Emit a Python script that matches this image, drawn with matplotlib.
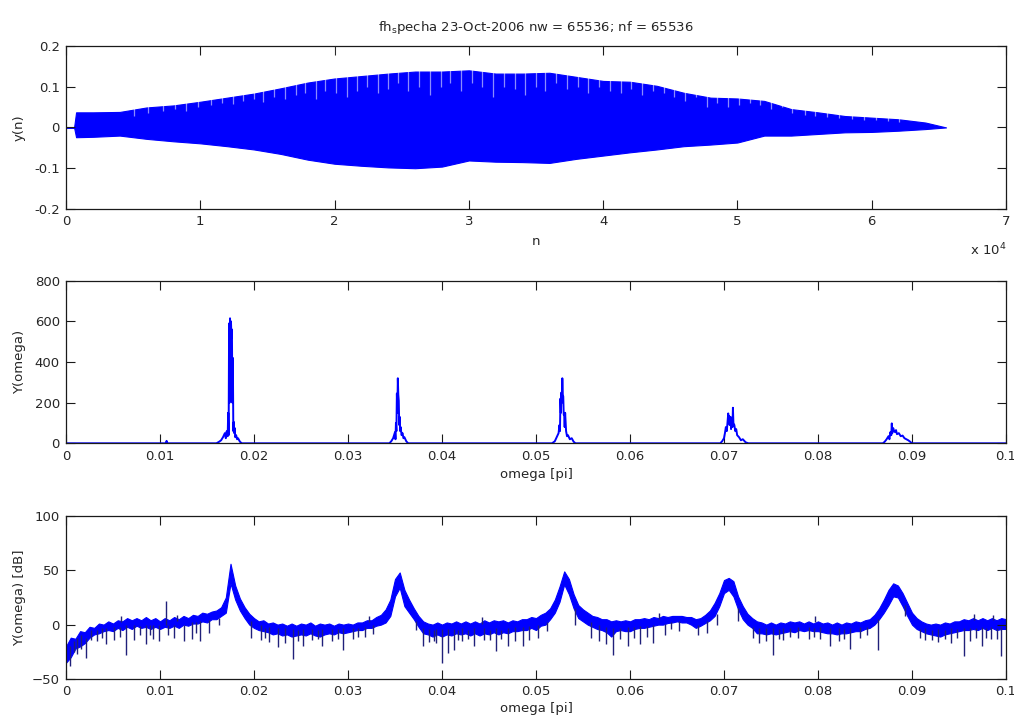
import numpy as np
import matplotlib
matplotlib.use('Agg')
from matplotlib import pyplot as plt

# --- top panel: envelope of y(n) ---
n_env = [0, 600, 750, 2000, 4000, 6000, 8000, 10000, 12000, 14000, 16000, 18000,
         20000, 22000, 24000, 26000, 28000, 30000, 32000, 34000, 36000, 38000,
         40000, 42000, 44000, 46000, 48000, 50000, 52000, 54000, 56000, 58000,
         60000, 62000, 64000, 65536]
y_upper = [0, 0, 0.037, 0.037, 0.038, 0.049, 0.054, 0.063, 0.073, 0.083, 0.096, 0.110,
           0.120, 0.126, 0.132, 0.137, 0.137, 0.140, 0.132, 0.132, 0.134, 0.124,
           0.114, 0.112, 0.102, 0.085, 0.073, 0.071, 0.065, 0.045, 0.037, 0.028,
           0.024, 0.020, 0.012, 0.0]
y_lower = [0, 0, -0.024, -0.023, -0.020, -0.028, -0.034, -0.039, -0.046, -0.054, -0.065, -0.079,
           -0.089, -0.094, -0.098, -0.100, -0.096, -0.081, -0.084, -0.085, -0.087, -0.077,
           -0.069, -0.061, -0.054, -0.046, -0.042, -0.037, -0.020, -0.020, -0.016, -0.012,
           -0.011, -0.008, -0.004, 0.0]

# light aliasing stripes inside the upper half: position and lowest value
stripe_n = [5100, 6100, 7200, 8100, 8900, 9800, 10800, 11600, 12400, 13200, 14000, 14700,
            15500, 16300, 17100, 17800, 18600, 19300, 20100, 20900, 21700, 22400, 23200,
            24000, 24700, 25500, 26300, 27100, 27900, 28600, 29400, 30200, 31000, 31800,
            32600, 33400, 34200, 35000, 35700, 36500, 37300, 38100, 38900, 39700, 40500,
            41300, 42100, 42900, 43700, 44500, 45300, 46100, 46900, 47700, 48500, 49300,
            50100, 50900, 51700, 52500, 53300, 54100, 55000, 55800, 56700, 57600, 58500,
            59400, 60300, 61200, 62000]
stripe_bot = [0.028, 0.035, 0.040, 0.045, 0.040, 0.050, 0.055, 0.060, 0.058, 0.065, 0.070,
              0.062, 0.075, 0.070, 0.080, 0.085, 0.070, 0.090, 0.085, 0.075, 0.090, 0.100,
              0.085, 0.095, 0.110, 0.090, 0.100, 0.080, 0.100, 0.110, 0.090, 0.110, 0.100,
              0.075, 0.100, 0.095, 0.080, 0.100, 0.090, 0.110, 0.095, 0.100, 0.085, 0.100,
              0.090, 0.085, 0.095, 0.080, 0.090, 0.085, 0.075, 0.065, 0.075, 0.050, 0.060,
              0.050, 0.055, 0.060, 0.055, 0.045, 0.050, 0.035, 0.030, 0.028, 0.025, 0.022,
              0.020, 0.018, 0.017, 0.015, 0.014]

# --- middle panel: magnitude spectrum around the harmonics ---
f_pk1 = [0.0160, 0.0163, 0.0165, 0.0167, 0.0169, 0.0170, 0.0171, 0.0172, 0.01725, 0.0173,
         0.01735, 0.0174, 0.01745, 0.0175, 0.01755, 0.0176, 0.01765, 0.0177, 0.01775, 0.0178,
         0.01785, 0.0179, 0.01795, 0.0180, 0.0181, 0.0182, 0.0183, 0.0185, 0.0187]
v_pk1 = [0, 8, 15, 30, 50, 25, 60, 35, 150, 40, 590, 200, 615, 330, 600, 520, 560, 200,
         420, 60, 105, 50, 75, 30, 40, 20, 25, 8, 0]
f_pk2 = [0.0344, 0.0346, 0.0348, 0.0350, 0.03505, 0.0351, 0.03515, 0.0352, 0.03525, 0.0353,
         0.03535, 0.0354, 0.03545, 0.0355, 0.03555, 0.0356, 0.0357, 0.0358, 0.0359, 0.0360,
         0.0362, 0.0364]
v_pk2 = [0, 10, 25, 55, 20, 100, 60, 245, 150, 320, 240, 210, 90, 130, 60, 80, 40, 50, 25,
         30, 10, 0]
f_pk3 = [0.0517, 0.0520, 0.0522, 0.0524, 0.0525, 0.05255, 0.0526, 0.05265, 0.0527, 0.05275,
         0.0528, 0.05285, 0.0529, 0.05295, 0.0530, 0.05305, 0.0531, 0.0532, 0.0533, 0.0534,
         0.0536, 0.0538, 0.0540, 0.0542]
v_pk3 = [0, 10, 30, 50, 90, 60, 220, 150, 250, 200, 320, 240, 230, 140, 140, 80, 150, 60,
         35, 40, 20, 25, 8, 0]
f_pk4 = [0.0696, 0.0698, 0.0700, 0.0701, 0.0702, 0.0703, 0.0704, 0.07045, 0.0705, 0.07055,
         0.0706, 0.0707, 0.07075, 0.0708, 0.0709, 0.07095, 0.0710, 0.0711, 0.0712, 0.0713,
         0.0714, 0.0716, 0.0718, 0.0720, 0.0723, 0.0726]
v_pk4 = [0, 10, 25, 50, 80, 60, 120, 147, 100, 135, 90, 130, 70, 110, 80, 175, 100, 90, 60,
         70, 40, 30, 15, 20, 5, 0]
f_pk5 = [0.0869, 0.0871, 0.0873, 0.0875, 0.0876, 0.0877, 0.0878, 0.08785, 0.0879, 0.0880,
         0.0881, 0.0882, 0.0883, 0.0884, 0.0886, 0.0888, 0.0890, 0.0892, 0.0894, 0.0896,
         0.0898, 0.0900]
v_pk5 = [0, 8, 20, 35, 20, 55, 40, 98, 50, 75, 60, 55, 65, 45, 50, 35, 38, 25, 20, 15, 8, 0]

# --- bottom panel: dB spectrum, upper / lower edge of the trace every 0.0005 ---
f_db = np.arange(201) * 0.0005
db_upper = [-20, -12, -13, -6, -7, -2, -3, 1, 0, 3,
            1, 4, 3, 6, 4, 6, 4, 7, 4, 6,
            3, 6, 4, 7, 5, 8, 6, 9, 8, 11,
            10, 12, 13, 16, 25, 56, 36, 24, 16, 10,
            6, 3, 4, 1, 2, 0, 1, -1, 1, -1,
            1, 0, 2, -1, 1, 0, 1, -1, 1, 0,
            1, 0, 2, 2, 4, 4, 7, 9, 14, 23,
            42, 48, 32, 23, 15, 8, 3, 1, 0, 2,
            0, 2, 1, 3, 1, 3, 1, 3, 1, 4,
            2, 4, 3, 4, 2, 4, 3, 5, 5, 7,
            6, 9, 11, 15, 23, 35, 49, 42, 28, 18,
            14, 11, 8, 7, 5, 5, 3, 4, 3, 4,
            3, 5, 5, 6, 5, 7, 6, 8, 7, 8,
            8, 8, 7, 7, 5, 6, 9, 13, 20, 29,
            41, 43, 40, 26, 17, 10, 6, 3, 2, 0,
            2, 0, 2, 1, 3, 2, 3, 1, 3, 1,
            3, 1, 2, 0, 2, 0, 2, 1, 3, 2,
            4, 5, 9, 15, 23, 32, 38, 36, 29, 20,
            11, 6, 3, 1, 0, 1, 0, 2, 1, 3,
            3, 5, 4, 6, 4, 6, 4, 6, 4, 6,
            5]
db_lower = [-35, -30, -22, -20, -17, -12, -9, -8, -6, -5,
            -6, -3, -5, -2, -4, -1, -3, -2, -4, -2,
            -4, -2, -3, -1, -3, 0, -1, 1, 1, 3,
            2, 5, 5, 8, 11, 38, 23, 13, 6, 0,
            -3, -5, -6, -7, -9, -8, -10, -9, -11, -10,
            -9, -10, -8, -10, -11, -9, -8, -9, -7, -8,
            -7, -6, -5, -5, -3, -3, -1, 0, 2, 8,
            26, 34, 17, 11, 5, -2, -8, -9, -11, -9,
            -11, -9, -10, -8, -9, -8, -10, -8, -10, -8,
            -9, -7, -9, -7, -8, -6, -6, -5, -5, -3,
            -5, -1, 0, 5, 11, 21, 37, 28, 15, 6,
            3, 0, -2, -4, -5, -7, -11, -6, -5, -6,
            -6, -4, -3, -3, -2, -1, 0, 0, 1.5, 2,
            3, 2, 2, 0, -3, -1, 1.5, 4, 8, 17,
            29, 32, 26, 14, 5, 0, -3, -8, -8, -9,
            -8, -9, -8, -7, -6, -7, -5, -6, -5, -6,
            -6, -7, -8, -8, -9, -8, -8, -7, -6, -6,
            -4, -3, 0, 5, 11, 18, 26, 25, 17, 8,
            0, -4, -6, -8, -9, -10, -11, -9, -8, -7,
            -6, -5, -5, -4, -5, -3, -5, -3, -5, -4,
            -4]

# thin spikes in the dB trace: (omega, top, bottom)
spike_f = [0.0004, 0.0008, 0.0012, 0.0016, 0.0021, 0.0027, 0.0033, 0.0038, 0.0043, 0.0051,
           0.0057, 0.0059, 0.0064, 0.0072, 0.0079, 0.0085, 0.0089, 0.0093, 0.0099, 0.0106,
           0.0108, 0.0115, 0.0118, 0.0126, 0.0134, 0.0138, 0.0143, 0.0152, 0.0163, 0.0197,
           0.0207, 0.0212, 0.0216, 0.0225, 0.0233, 0.0241, 0.0247, 0.0252, 0.0262, 0.0268,
           0.0272, 0.0283, 0.0289, 0.0295, 0.0305, 0.0311, 0.0318, 0.0322, 0.0327, 0.0372,
           0.0380, 0.0386, 0.0391, 0.0394, 0.0400, 0.0406, 0.0413, 0.0417, 0.0421, 0.0428,
           0.0434, 0.0443, 0.0445, 0.0451, 0.0457, 0.0463, 0.0470, 0.0478, 0.0486, 0.0493,
           0.0502, 0.0512, 0.0541, 0.0558, 0.0567, 0.0575, 0.0582, 0.0589, 0.0598, 0.0604,
           0.0611, 0.0618, 0.0625, 0.0631, 0.0637, 0.0644, 0.0652, 0.0672, 0.0682, 0.0693,
           0.0715, 0.0731, 0.0737, 0.0745, 0.0752, 0.0758, 0.0763, 0.0770, 0.0779, 0.0790,
           0.0796, 0.0797, 0.0802, 0.0813, 0.0822, 0.0828, 0.0834, 0.0845, 0.0852, 0.0864,
           0.0893, 0.0908, 0.0914, 0.0921, 0.0928, 0.0935, 0.0942, 0.0948, 0.0955, 0.0962,
           0.0966, 0.0968, 0.0974, 0.0979, 0.0984, 0.0986, 0.0990, 0.0995]
spike_top = [-20, -15, -12, -10, -12, -5, -5, -3, -3, -2,
             -2, 8, 0, 0, -1, 0, 0, 0, 0, 22,
             0, 0, 9, 0, 2, 2, 3, 4, 6, 3,
             0, -3, -2, -3, -3, -4, -5, -4, -4, -5,
             -4, -4, -4, -3, -3, -3, -2, 8, 0, 3,
             -3, -4, -5, -4, -4, -4, -4, -5, -3, -5,
             -3, 7, -3, -5, -3, -5, -3, -2, -2, -1,
             0, 2, 15, 2, 0, -2, -3, -3, -2, -2,
             -1, -1, 0, 11, 1, 2, 3, 0, 3, 10,
             15, -2, -3, -3, -3, -4, -3, -3, -2, -2,
             -3, 8, -2, -3, -3, -4, -3, -2, -2, 5,
             18, -4, -3, -5, -4, -5, -3, -4, -3, -3,
             10, -3, -2, -3, -2, 9, -3, -2]
spike_bot = [-38, -25, -27, -22, -31, -14, -15, -12, -18, -14,
             -11, 2, -28, -14, -10, -18, -10, -13, -15, 0,
             -10, -12, 3, -15, -13, -8, -15, -8, 0, -12,
             -14, -12, -16, -21, -17, -32, -15, -20, -14, -13,
             -20, -15, -13, -23, -13, -11, -11, 2, -9, -5,
             -20, -16, -15, -17, -35, -26, -23, -14, -15, -13,
             -20, 1, -14, -14, -24, -13, -20, -15, -20, -14,
             -12, -6, 0, -12, -15, -18, -28, -13, -20, -12,
             -18, -11, -17, 5, -10, -4, -6, -10, -8, 0,
             3, -12, -17, -15, -28, -13, -14, -11, -12, -13,
             -11, 2, -13, -20, -15, -13, -22, -12, -10, -23,
             8, -12, -14, -14, -16, -13, -17, -12, -29, -15,
             4, -12, -20, -12, -13, 4, -13, -29]

BLUE = '#0000ff'
TXT = '#262626'

plt.rcParams['font.family'] = ['DejaVu Sans']
plt.rcParams['font.size'] = 9.5
plt.rcParams['mathtext.default'] = 'regular'

fig = plt.figure(figsize=(10.14, 7.22), dpi=100)
ax1 = fig.add_axes([0.0651, 0.7105, 0.927, 0.226])
ax2 = fig.add_axes([0.0651, 0.386, 0.927, 0.2252])
ax3 = fig.add_axes([0.0651, 0.0596, 0.927, 0.2258])


def matlab_style(ax):
    for s in ax.spines.values():
        s.set_linewidth(0.9)
        s.set_color('#1a1a1a')
    ax.tick_params(direction='in', length=6.5, width=0.8, top=True, right=True,
                   colors='#1a1a1a', labelcolor=TXT, pad=4.5, labelsize=9.5)


# top: time signal
ax1.fill_between(n_env, y_lower, y_upper, color=BLUE, lw=0.8, edgecolor=BLUE)
ax1.vlines(stripe_n, stripe_bot, 0.2, color='white', alpha=0.55, lw=0.9)
ax1.set_xlim(0, 70000)
ax1.set_ylim(-0.2, 0.2)
ax1.set_xticks(range(0, 70001, 10000))
ax1.set_xticklabels([str(i) for i in range(8)])
ax1.set_yticks([-0.2, -0.1, 0, 0.1, 0.2])
ax1.set_yticklabels(['-0.2', '-0.1', '0', '0.1', '0.2'])
ax1.set_xlabel('n', color=TXT, labelpad=5)
ax1.set_ylabel('y(n)', color=TXT, labelpad=6)
ax1.set_title('fh$_s$pecha 23-Oct-2006 nw = 65536; nf = 65536', color=TXT,
              fontsize=9.5, pad=11)
ax1.text(1.0, -0.2, 'x 10$^4$', transform=ax1.transAxes, ha='right', va='top',
         color=TXT, fontsize=9.5)
matlab_style(ax1)

# middle: magnitude spectrum
f_mag = [0.0, 0.0106, 0.0107, 0.0108] + f_pk1 + f_pk2 + f_pk3 + f_pk4 + f_pk5 + [0.1]
v_mag = [0, 0, 12, 0] + v_pk1 + v_pk2 + v_pk3 + v_pk4 + v_pk5 + [0]
ax2.plot(f_mag, v_mag, color=BLUE, lw=1.4)
ax2.set_xlim(0, 0.1)
ax2.set_ylim(0, 800)
ax2.set_xticks(np.arange(0, 0.1001, 0.01))
ax2.set_xticklabels(['0', '0.01', '0.02', '0.03', '0.04', '0.05', '0.06', '0.07',
                     '0.08', '0.09', '0.1'])
ax2.set_yticks([0, 200, 400, 600, 800])
ax2.set_xlabel('omega [pi]', color=TXT, labelpad=4)
ax2.set_ylabel('Y(omega)', color=TXT, labelpad=6)
matlab_style(ax2)

# bottom: dB spectrum
ax3.fill_between(f_db, db_lower, db_upper, color=BLUE, lw=0.8, edgecolor=BLUE)
ax3.vlines(spike_f, spike_bot, spike_top, color='#20207a', lw=1.0)
ax3.set_xlim(0, 0.1)
ax3.set_ylim(-50, 100)
ax3.set_xticks(np.arange(0, 0.1001, 0.01))
ax3.set_xticklabels(['0', '0.01', '0.02', '0.03', '0.04', '0.05', '0.06', '0.07',
                     '0.08', '0.09', '0.1'])
ax3.set_yticks([-50, 0, 50, 100])
ax3.set_xlabel('omega [pi]', color=TXT, labelpad=3)
ax3.set_ylabel('Y(omega) [dB]', color=TXT, labelpad=4)
matlab_style(ax3)

fig.savefig('out.png', dpi=100)
